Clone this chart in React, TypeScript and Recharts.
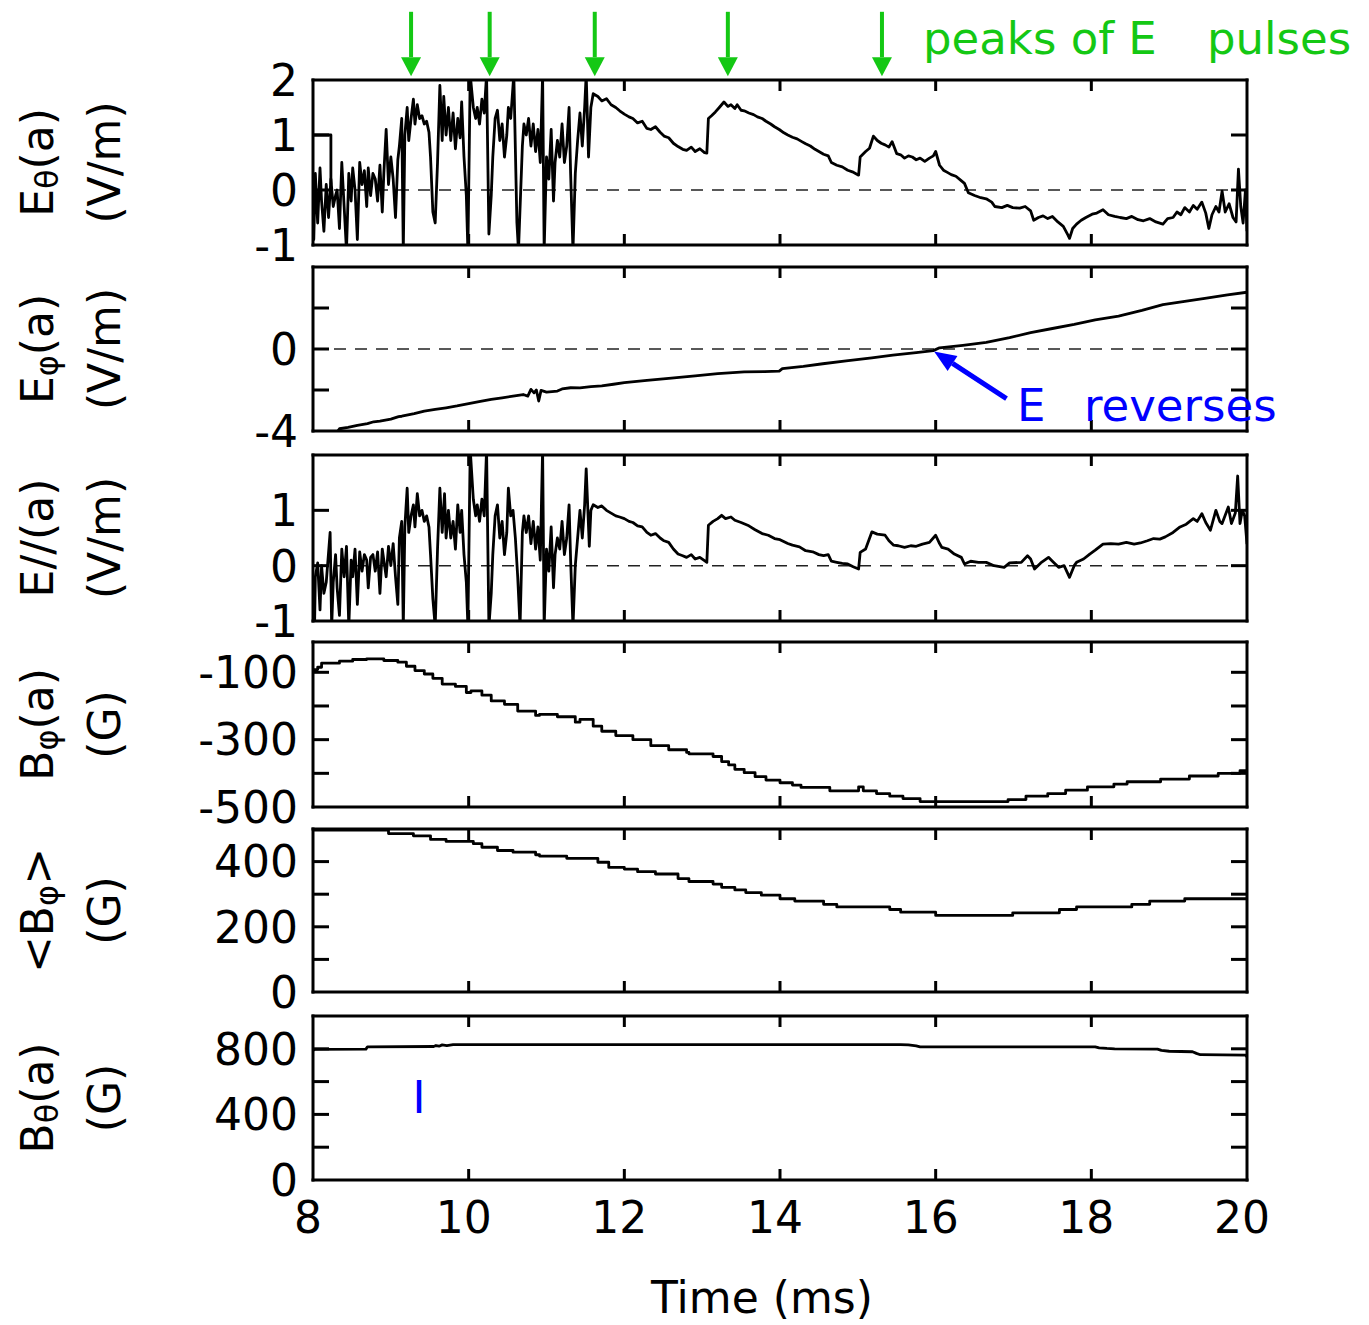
import React from 'react';
import { LineChart, Line, XAxis, YAxis, ReferenceLine } from 'recharts';

type Pt = [number, number];

// time axis (ms)
const timeTicks = [8, 10, 12, 14, 16, 18, 20];
const innerTimeTicks = [10, 12, 14, 16, 18];
const pulsePeakTimes = [9.26, 10.27, 11.62, 13.33, 15.31];

// E_theta(a), V/m
const eThetaPts: Pt[] = [
  [8.0, 0.0], [8.01, -0.9], [8.03, 0.3], [8.06, -0.6], [8.09, 0.4], [8.11, -0.2], [8.14, -0.75], [8.17, 0.1],
  [8.2, -0.5], [8.23, 0.2], [8.26, -0.3], [8.29, -0.1], [8.31, 0.0], [8.34, -0.7], [8.37, 0.5], [8.4, -0.3],
  [8.43, -1.1], [8.46, 0.3], [8.49, -0.2], [8.51, 0.4], [8.54, 0.0], [8.57, -0.9], [8.6, 0.5], [8.63, 0.1],
  [8.66, 0.35], [8.69, -0.3], [8.71, 0.4], [8.74, -0.1], [8.77, 0.3], [8.8, 0.2], [8.83, -0.2], [8.86, 0.45],
  [8.89, -0.4], [8.91, 0.3], [8.94, 1.1], [8.97, 0.1], [9.0, 0.6], [9.03, 0.2], [9.06, -0.5], [9.09, 0.55],
  [9.11, 0.8], [9.14, 1.3], [9.16, -1.1], [9.18, 1.0], [9.21, 1.5], [9.23, 0.9], [9.26, 1.3], [9.29, 1.65],
  [9.31, 1.2], [9.34, 1.55], [9.37, 1.3], [9.4, 1.35], [9.43, 1.2], [9.46, 1.25], [9.49, 1.05], [9.51, 0.6],
  [9.54, -0.4], [9.57, -0.6], [9.6, 0.5], [9.63, 1.9], [9.66, 0.9], [9.68, 1.7], [9.71, 1.0], [9.74, 1.5],
  [9.77, 0.9], [9.8, 1.4], [9.83, 0.75], [9.86, 1.3], [9.89, 0.95], [9.91, 1.6], [9.94, 0.6], [9.97, -0.1],
  [9.99, -1.1], [10.02, 2.1], [10.06, 1.5], [10.09, 1.3], [10.11, 1.5], [10.14, 1.2], [10.17, 1.65], [10.2, 1.4],
  [10.23, 2.1], [10.26, -0.8], [10.29, -0.1], [10.31, 0.6], [10.34, 1.3], [10.37, 1.45], [10.4, 0.9], [10.43, 1.2],
  [10.46, 0.6], [10.49, 1.0], [10.51, 1.5], [10.54, 1.3], [10.58, 2.1], [10.62, -0.6], [10.64, -1.1], [10.69, 0.8],
  [10.71, 1.2], [10.74, 1.0], [10.77, 1.3], [10.8, 0.8], [10.83, 1.2], [10.86, 0.7], [10.89, 1.1], [10.92, 0.5],
  [10.95, 2.1], [10.97, -1.1], [11.0, 0.6], [11.03, 0.2], [11.06, 1.1], [11.09, -0.2], [11.11, 0.5], [11.14, 0.9],
  [11.17, 0.6], [11.2, 1.2], [11.23, 0.5], [11.26, 0.8], [11.29, 1.5], [11.31, 0.3], [11.34, -1.1], [11.37, 0.3],
  [11.4, 0.9], [11.43, 1.4], [11.46, 0.8], [11.49, 1.5], [11.51, 2.1], [11.54, 0.6], [11.57, 1.5], [11.6, 1.75],
  [11.66, 1.7], [11.71, 1.62], [11.77, 1.66], [11.83, 1.55], [11.89, 1.5], [11.94, 1.44], [12.0, 1.38], [12.06, 1.33],
  [12.11, 1.3], [12.17, 1.22], [12.23, 1.25], [12.29, 1.12], [12.34, 1.1], [12.4, 1.15], [12.46, 1.05], [12.51, 0.98],
  [12.57, 0.95], [12.63, 0.85], [12.69, 0.79], [12.75, 0.74], [12.8, 0.72], [12.86, 0.78], [12.91, 0.7], [12.97, 0.75],
  [13.03, 0.68], [13.06, 0.67], [13.08, 1.3], [13.12, 1.35], [13.17, 1.42], [13.22, 1.5], [13.28, 1.6], [13.33, 1.52],
  [13.37, 1.55], [13.42, 1.48], [13.45, 1.55], [13.5, 1.45], [13.54, 1.44], [13.6, 1.4], [13.66, 1.37], [13.71, 1.33],
  [13.77, 1.3], [13.82, 1.25], [13.88, 1.2], [13.93, 1.15], [13.99, 1.1], [14.05, 1.04], [14.1, 1.0], [14.16, 0.96],
  [14.22, 0.93], [14.28, 0.88], [14.33, 0.84], [14.39, 0.8], [14.45, 0.74], [14.5, 0.7], [14.56, 0.65], [14.62, 0.62],
  [14.66, 0.5], [14.73, 0.45], [14.8, 0.42], [14.87, 0.36], [14.93, 0.33], [15.01, 0.27], [15.03, 0.6], [15.1, 0.7],
  [15.15, 0.76], [15.2, 0.98], [15.25, 0.9], [15.3, 0.85], [15.35, 0.82], [15.4, 0.78], [15.44, 0.88], [15.5, 0.66],
  [15.55, 0.64], [15.6, 0.58], [15.65, 0.62], [15.7, 0.6], [15.75, 0.55], [15.8, 0.58], [15.86, 0.52], [15.92, 0.58],
  [15.97, 0.62], [16.0, 0.7], [16.05, 0.45], [16.1, 0.36], [16.15, 0.32], [16.2, 0.28], [16.26, 0.25], [16.32, 0.18],
  [16.37, 0.12], [16.42, -0.05], [16.5, -0.1], [16.58, -0.14], [16.65, -0.16], [16.72, -0.22], [16.76, -0.3], [16.85, -0.32],
  [16.92, -0.28], [16.99, -0.32], [17.08, -0.33], [17.15, -0.3], [17.22, -0.38], [17.26, -0.55], [17.32, -0.5], [17.38, -0.47],
  [17.44, -0.52], [17.5, -0.48], [17.57, -0.58], [17.64, -0.66], [17.7, -0.82], [17.72, -0.88], [17.76, -0.7], [17.81, -0.62],
  [17.87, -0.55], [17.93, -0.5], [18.01, -0.44], [18.07, -0.42], [18.15, -0.36], [18.22, -0.45], [18.3, -0.48], [18.37, -0.5],
  [18.45, -0.52], [18.52, -0.48], [18.6, -0.54], [18.67, -0.56], [18.75, -0.52], [18.83, -0.58], [18.92, -0.62], [18.98, -0.52],
  [19.05, -0.5], [19.1, -0.4], [19.15, -0.45], [19.2, -0.32], [19.26, -0.4], [19.31, -0.28], [19.36, -0.35], [19.42, -0.22],
  [19.47, -0.42], [19.51, -0.7], [19.55, -0.45], [19.6, -0.3], [19.64, -0.4], [19.68, -0.02], [19.72, -0.4], [19.77, -0.25],
  [19.82, -0.5], [19.86, -0.58], [19.89, 0.38], [19.92, -0.3], [19.95, -0.6], [19.98, 0.0], [20.0, -0.75],
];
// flat trace at the very start of the E_theta record
const eThetaStartPts: Pt[] = [[8.0, 1.0], [8.23, 1.0], [8.23, 0.1]];

// E_phi(a), V/m
const ePhiPts: Pt[] = [
  [8.3, -4.1], [8.34, -3.89], [8.45, -3.82], [8.57, -3.72], [8.7, -3.64], [8.78, -3.55], [8.86, -3.52], [9.0, -3.42],
  [9.1, -3.3], [9.14, -3.28], [9.3, -3.15], [9.43, -3.03], [9.57, -2.95], [9.71, -2.87], [9.85, -2.78], [10.0, -2.67],
  [10.15, -2.56], [10.29, -2.46], [10.43, -2.38], [10.57, -2.3], [10.7, -2.22], [10.76, -2.3], [10.8, -1.97], [10.84, -2.14],
  [10.87, -2.0], [10.9, -2.54], [10.93, -2.02], [11.0, -2.1], [11.14, -2.05], [11.2, -1.95], [11.31, -1.89], [11.43, -1.9],
  [11.57, -1.84], [11.71, -1.8], [11.86, -1.72], [12.0, -1.64], [12.29, -1.53], [12.57, -1.43], [12.91, -1.31], [13.2, -1.2],
  [13.54, -1.12], [13.8, -1.1], [13.99, -1.08], [14.03, -0.96], [14.3, -0.85], [14.55, -0.72], [14.85, -0.58], [15.18, -0.43],
  [15.45, -0.3], [15.75, -0.18], [15.97, -0.08], [16.05, 0.06], [16.35, 0.18], [16.65, 0.32], [16.95, 0.55], [17.22, 0.8],
  [17.5, 1.0], [17.78, 1.2], [18.05, 1.42], [18.35, 1.6], [18.65, 1.88], [18.92, 2.16], [19.2, 2.32], [19.48, 2.48],
  [19.75, 2.64], [20.0, 2.77],
];

// E_parallel(a), V/m
const eParPts: Pt[] = [
  [8.0, -0.2], [8.02, -1.1], [8.03, -0.2], [8.06, 0.05], [8.09, -0.8], [8.11, 0.0], [8.14, -0.5], [8.17, -0.3],
  [8.22, 0.6], [8.24, -1.1], [8.26, -0.3], [8.29, 0.2], [8.31, -0.4], [8.34, -0.9], [8.37, 0.3], [8.4, -0.2],
  [8.43, 0.35], [8.46, -1.1], [8.49, 0.1], [8.51, -0.2], [8.54, 0.3], [8.57, -0.7], [8.6, 0.25], [8.63, -0.1],
  [8.66, 0.2], [8.69, 0.1], [8.71, -0.4], [8.74, 0.15], [8.77, 0.2], [8.8, -0.1], [8.83, 0.25], [8.86, -0.5],
  [8.89, 0.3], [8.91, 0.1], [8.94, -0.2], [8.97, 0.35], [9.0, 0.0], [9.03, 0.4], [9.06, -0.2], [9.09, -0.7],
  [9.11, 0.5], [9.14, 0.8], [9.16, -1.1], [9.18, 0.7], [9.21, 1.4], [9.23, 0.6], [9.26, 0.9], [9.29, 1.1],
  [9.31, 0.7], [9.34, 1.3], [9.37, 0.9], [9.4, 1.0], [9.43, 0.8], [9.46, 0.9], [9.49, 0.7], [9.51, 0.2],
  [9.54, -0.6], [9.57, -1.1], [9.6, 0.3], [9.63, 1.4], [9.66, 0.6], [9.69, 1.3], [9.71, 0.5], [9.74, 1.0],
  [9.77, 0.5], [9.8, 0.8], [9.83, 0.3], [9.86, 1.1], [9.89, 0.6], [9.91, 1.0], [9.94, 0.2], [9.97, -0.3],
  [9.99, -1.1], [10.02, 2.1], [10.06, 1.2], [10.09, 0.9], [10.11, 1.1], [10.14, 0.8], [10.17, 1.2], [10.2, 0.9],
  [10.23, 2.1], [10.26, -1.1], [10.29, -0.5], [10.31, 0.2], [10.34, 0.9], [10.37, 1.1], [10.4, 0.5], [10.43, 0.8],
  [10.46, 0.2], [10.49, 0.6], [10.51, 1.4], [10.54, 0.9], [10.57, 1.0], [10.6, 0.5], [10.63, -0.2], [10.66, -1.1],
  [10.69, 0.6], [10.71, 0.9], [10.74, 0.6], [10.77, 0.9], [10.8, 0.4], [10.83, 0.8], [10.86, 0.3], [10.89, 0.7],
  [10.92, 0.1], [10.95, 2.1], [10.97, -1.1], [11.0, 0.3], [11.03, -0.1], [11.06, 0.7], [11.09, -0.4], [11.11, 0.2],
  [11.14, 0.5], [11.17, 0.3], [11.2, 0.8], [11.23, 0.2], [11.26, 0.5], [11.29, 1.1], [11.31, 0.1], [11.34, -1.1],
  [11.37, 0.0], [11.4, 0.5], [11.43, 1.0], [11.46, 0.5], [11.49, 1.1], [11.51, 1.75], [11.55, 0.35], [11.57, 1.0],
  [11.6, 1.1], [11.66, 1.05], [11.71, 1.08], [11.77, 1.0], [11.83, 0.95], [11.89, 0.9], [11.94, 0.88], [12.0, 0.85],
  [12.06, 0.8], [12.11, 0.78], [12.17, 0.72], [12.23, 0.7], [12.29, 0.6], [12.34, 0.55], [12.4, 0.58], [12.46, 0.5],
  [12.51, 0.45], [12.57, 0.42], [12.63, 0.3], [12.69, 0.21], [12.75, 0.18], [12.8, 0.15], [12.86, 0.2], [12.91, 0.12],
  [12.97, 0.15], [13.03, 0.09], [13.06, 0.06], [13.08, 0.73], [13.14, 0.8], [13.2, 0.85], [13.25, 0.91], [13.3, 0.85],
  [13.37, 0.88], [13.42, 0.82], [13.5, 0.78], [13.6, 0.72], [13.68, 0.65], [13.77, 0.58], [13.85, 0.55], [13.93, 0.49],
  [14.0, 0.47], [14.1, 0.4], [14.16, 0.37], [14.25, 0.34], [14.33, 0.27], [14.42, 0.25], [14.5, 0.2], [14.56, 0.18],
  [14.62, 0.2], [14.66, 0.08], [14.73, 0.06], [14.8, 0.04], [14.87, 0.03], [14.94, -0.02], [15.01, -0.06], [15.03, 0.24],
  [15.1, 0.3], [15.18, 0.61], [15.25, 0.57], [15.35, 0.55], [15.4, 0.45], [15.46, 0.37], [15.52, 0.36], [15.6, 0.33],
  [15.68, 0.36], [15.75, 0.35], [15.83, 0.39], [15.92, 0.42], [16.0, 0.55], [16.05, 0.4], [16.08, 0.33], [16.16, 0.3],
  [16.24, 0.21], [16.33, 0.15], [16.37, 0.03], [16.45, 0.08], [16.55, 0.06], [16.65, 0.06], [16.75, 0.0], [16.88, -0.03],
  [16.95, 0.05], [17.1, 0.06], [17.18, 0.18], [17.22, 0.12], [17.27, -0.06], [17.35, 0.05], [17.45, 0.15], [17.5, 0.08],
  [17.58, -0.03], [17.65, 0.0], [17.72, -0.21], [17.78, 0.0], [17.81, 0.06], [17.9, 0.12], [17.98, 0.21], [18.05, 0.28],
  [18.15, 0.39], [18.25, 0.4], [18.35, 0.39], [18.45, 0.42], [18.55, 0.39], [18.63, 0.41], [18.72, 0.45], [18.8, 0.49],
  [18.88, 0.48], [18.95, 0.52], [19.05, 0.6], [19.14, 0.7], [19.22, 0.75], [19.31, 0.85], [19.36, 0.8], [19.42, 0.94],
  [19.47, 0.78], [19.53, 0.64], [19.6, 1.0], [19.65, 0.8], [19.68, 0.76], [19.76, 1.06], [19.8, 0.76], [19.85, 0.95],
  [19.88, 1.62], [19.91, 0.76], [19.94, 1.0], [19.97, 0.9], [20.0, 0.39],
];

// B_phi(a), G  (staircase: start of each level)
const bPhiPts: Pt[] = [
  [8.0, -92], [8.06, -85], [8.11, -73], [8.34, -67], [8.51, -62], [8.69, -60], [8.91, -65], [9.09, -70],
  [9.2, -82], [9.31, -95], [9.43, -105], [9.54, -118], [9.66, -135], [9.83, -142], [9.97, -160], [10.03, -155],
  [10.17, -168], [10.29, -185], [10.46, -195], [10.63, -215], [10.86, -228], [10.91, -225], [11.14, -232], [11.37, -248],
  [11.43, -240], [11.6, -260], [11.71, -275], [11.89, -288], [12.11, -300], [12.34, -318], [12.57, -330], [12.8, -338],
  [12.83, -342], [13.14, -350], [13.25, -365], [13.34, -375], [13.42, -388], [13.54, -398], [13.68, -410], [13.82, -420],
  [14.0, -428], [14.16, -435], [14.27, -442], [14.64, -452], [15.01, -440], [15.07, -452], [15.24, -460], [15.41, -468],
  [15.58, -475], [15.8, -484], [16.93, -478], [17.16, -468], [17.44, -460], [17.67, -450], [17.95, -440], [18.29, -432],
  [18.46, -425], [18.89, -417], [19.26, -408], [19.63, -400], [19.91, -392], [20.0, -392],
];

// <B_phi>, G  (staircase: start of each level)
const bPhiAvgPts: Pt[] = [
  [8.0, 497], [8.97, 486], [9.29, 479], [9.51, 468], [9.71, 462], [10.06, 455], [10.17, 444], [10.37, 434],
  [10.57, 429], [10.86, 421], [10.91, 417], [11.26, 410], [11.66, 398], [11.8, 382], [12.0, 377], [12.17, 369],
  [12.4, 362], [12.69, 348], [12.83, 339], [13.14, 331], [13.25, 321], [13.42, 313], [13.56, 305], [13.76, 297],
  [14.0, 286], [14.19, 279], [14.56, 269], [14.73, 261], [15.41, 253], [15.55, 245], [16.0, 235], [16.99, 243],
  [17.59, 253], [17.81, 261], [18.52, 269], [18.75, 279], [19.2, 286], [20.0, 288],
];

// B_theta(a), G
const bThetaPts: Pt[] = [
  [8.0, 790], [8.02, 796], [8.68, 798], [8.7, 812], [9.55, 814], [9.58, 820], [9.62, 816], [9.66, 824],
  [9.72, 820], [9.8, 826], [15.55, 826], [15.65, 824], [15.75, 818], [15.8, 812], [18.05, 812], [18.1, 806],
  [18.2, 802], [18.3, 800], [18.85, 798], [18.9, 790], [19.0, 785], [19.3, 782], [19.35, 772], [19.4, 764],
  [19.98, 762], [20.0, 752],
];

const W = 1369;
const H = 1325;
const PLOT_RIGHT = 1247;
const PLOT_LEFT = 313;
const FONT = "'DejaVu Sans', sans-serif";
const GREEN = '#14c814';
const BLUE = '#0000ff';
const frameLine = { stroke: '#000', strokeWidth: 3, strokeLinecap: 'square' as const };

const toRows = (pts: Pt[]) => pts.map(([t, v]) => ({ t, v }));

type Curve = 'linear' | 'stepAfter';

interface PanelCfg {
  top: number;
  bottom: number;
  domain: [number, number];
  ticks: number[];
  labels: number[];
  marks: number[];
  zero?: boolean;
  series: { pts: Pt[]; curve: Curve }[];
  title: [string, string, string];
  unit: string;
  padTop?: number;
  padBottom?: number;
  timeLabels?: boolean;
}

const panels: PanelCfg[] = [
  {
    top: 80, bottom: 245, domain: [-1, 2], ticks: [-1, 0, 1, 2], labels: [-1, 0, 1, 2], marks: [0, 1], zero: true,
    series: [{ pts: eThetaPts, curve: 'linear' }, { pts: eThetaStartPts, curve: 'linear' }],
    title: ['E', 'θ', '(a)'], unit: '(V/m)', padTop: 80,
  },
  {
    top: 267, bottom: 431, domain: [-4, 4], ticks: [-4, -2, 0, 2, 4], labels: [-4, 0], marks: [-2, 0, 2], zero: true,
    series: [{ pts: ePhiPts, curve: 'linear' }],
    title: ['E', 'φ', '(a)'], unit: '(V/m)',
  },
  {
    top: 455, bottom: 621, domain: [-1, 2], ticks: [-1, 0, 1, 2], labels: [-1, 0, 1], marks: [0, 1], zero: true,
    series: [{ pts: eParPts, curve: 'linear' }],
    title: ['E//(a)', '', ''], unit: '(V/m)',
  },
  {
    top: 642, bottom: 807, domain: [-500, -10], ticks: [-500, -400, -300, -200, -100], labels: [-500, -300, -100],
    marks: [-400, -300, -200, -100],
    series: [{ pts: bPhiPts, curve: 'stepAfter' }],
    title: ['B', 'φ', '(a)'], unit: '(G)',
  },
  {
    top: 829, bottom: 992, domain: [0, 500], ticks: [0, 100, 200, 300, 400, 500], labels: [0, 200, 400],
    marks: [100, 200, 300, 400],
    series: [{ pts: bPhiAvgPts, curve: 'stepAfter' }],
    title: ['<B', 'φ', '>'], unit: '(G)',
  },
  {
    top: 1016, bottom: 1180, domain: [0, 1000], ticks: [0, 200, 400, 600, 800, 1000], labels: [0, 400, 800],
    marks: [200, 400, 600, 800],
    series: [{ pts: bThetaPts, curve: 'linear' }],
    title: ['B', 'θ', '(a)'], unit: '(G)', padBottom: 70, timeLabels: true,
  },
];

const TimeTick = (props: any) => {
  const { x, y, payload, side, showLabel } = props;
  const v = payload.value;
  const dir = side === 'bottom' ? -1 : 1;
  return (
    <g>
      {innerTimeTicks.includes(v) && (
        <line x1={x} x2={x} y1={y} y2={y + dir * 11} stroke="#000" strokeWidth={3} />
      )}
      {showLabel && (
        <text x={x - 5} y={y + 53} textAnchor="middle" fontSize={44} fontFamily={FONT} fill="#000">
          {v}
        </text>
      )}
    </g>
  );
};

const ValueTick = (props: any) => {
  const { x, y, payload, side, labels, marks } = props;
  const v = payload.value;
  const dir = side === 'left' ? 1 : -1;
  return (
    <g>
      {marks.includes(v) && <line x1={x} x2={x + dir * 16} y1={y} y2={y} stroke="#000" strokeWidth={3} />}
      {side === 'left' && labels.includes(v) && (
        <text x={x - 15} y={y} dy="0.36em" textAnchor="end" fontSize={44} fontFamily={FONT} fill="#000">
          {v}
        </text>
      )}
    </g>
  );
};

const arrowShape = (color: string, width: number, headLen: number, headW: number) => (props: any) => {
  const { x1, y1, x2, y2 } = props;
  const a = Math.atan2(y2 - y1, x2 - x1);
  const bx = x2 - headLen * Math.cos(a);
  const by = y2 - headLen * Math.sin(a);
  const px = (-Math.sin(a) * headW) / 2;
  const py = (Math.cos(a) * headW) / 2;
  return (
    <g>
      <line x1={x1} y1={y1} x2={bx} y2={by} stroke={color} strokeWidth={width} />
      <polygon points={`${x2},${y2} ${bx + px},${by + py} ${bx - px},${by - py}`} fill={color} />
    </g>
  );
};

// axes need a non-zero size to be drawn; 1px each
const AX = 1;

const Panel = ({ cfg, children }: { cfg: PanelCfg; children?: React.ReactNode }) => {
  const padTop = cfg.padTop ?? 30;
  const padBottom = cfg.padBottom ?? 30;
  const h = cfg.bottom - cfg.top;
  return (
    <div style={{ position: 'absolute', left: 0, top: cfg.top - padTop }}>
      <LineChart
        width={W}
        height={h + padTop + padBottom}
        margin={{ top: padTop - AX, bottom: padBottom - AX, left: 0, right: W - PLOT_RIGHT - AX }}
      >
        <XAxis
          xAxisId="b" dataKey="t" type="number" domain={[8, 20]} ticks={timeTicks} interval={0}
          allowDataOverflow height={AX} tickSize={0} tickMargin={0} tickLine={false} axisLine={frameLine}
          tick={(p: any) => <TimeTick {...p} side="bottom" showLabel={!!cfg.timeLabels} />}
        />
        <XAxis
          xAxisId="t" orientation="top" dataKey="t" type="number" domain={[8, 20]} ticks={timeTicks} interval={0}
          allowDataOverflow height={AX} tickSize={0} tickMargin={0} tickLine={false} axisLine={frameLine}
          tick={(p: any) => <TimeTick {...p} side="top" showLabel={false} />}
        />
        <YAxis
          yAxisId="l" type="number" domain={cfg.domain} ticks={cfg.ticks} interval={0} allowDataOverflow
          width={PLOT_LEFT} tickSize={0} tickMargin={0} tickLine={false} axisLine={frameLine}
          tick={(p: any) => <ValueTick {...p} side="left" labels={cfg.labels} marks={cfg.marks} />}
        />
        <YAxis
          yAxisId="r" orientation="right" type="number" domain={cfg.domain} ticks={cfg.ticks} interval={0}
          allowDataOverflow width={AX} tickSize={0} tickMargin={0} tickLine={false} axisLine={frameLine}
          tick={(p: any) => <ValueTick {...p} side="right" labels={cfg.labels} marks={cfg.marks} />}
        />
        {cfg.zero && (
          <ReferenceLine xAxisId="b" yAxisId="l" y={0} stroke="#222" strokeWidth={1.5} strokeDasharray="12 9" />
        )}
        {cfg.series.map((s, i) => (
          <Line
            key={i} xAxisId="b" yAxisId="l" data={toRows(s.pts)} dataKey="v" type={s.curve}
            stroke="#000" strokeWidth={2.8} strokeLinejoin="round" dot={false} activeDot={false}
            isAnimationActive={false}
          />
        ))}
        {children}
      </LineChart>
    </div>
  );
};

const PanelTitle = ({ cfg }: { cfg: PanelCfg }) => {
  const cy = (cfg.top + cfg.bottom) / 2;
  const [main, sub, rest] = cfg.title;
  return (
    <g fontFamily={FONT} fontSize={44} fill="#000">
      <text transform={`translate(53 ${cy}) rotate(-90)`} textAnchor="middle">
        {main}
        {sub && (
          <tspan fontSize={32} dy={5}>
            {sub}
          </tspan>
        )}
        {rest && <tspan dy={sub ? -5 : 0}>{rest}</tspan>}
      </text>
      <text transform={`translate(120 ${cy}) rotate(-90)`} textAnchor="middle">
        {cfg.unit}
      </text>
    </g>
  );
};

export default function App() {
  return (
    <div style={{ position: 'absolute', left: 0, top: 0, width: W, height: H, background: '#fff' }}>
      <Panel cfg={panels[0]}>
        {pulsePeakTimes.map((t) => (
          <ReferenceLine
            key={t} xAxisId="b" yAxisId="l" ifOverflow="visible"
            segment={[{ x: t, y: 3.24 }, { x: t, y: 2.07 }]}
            shape={arrowShape(GREEN, 4, 19, 20)}
          />
        ))}
      </Panel>
      <Panel cfg={panels[1]}>
        <ReferenceLine
          xAxisId="b" yAxisId="l" ifOverflow="visible"
          segment={[{ x: 16.91, y: -2.42 }, { x: 15.98, y: -0.12 }]}
          shape={arrowShape(BLUE, 5, 22, 18)}
        />
      </Panel>
      <Panel cfg={panels[2]} />
      <Panel cfg={panels[3]} />
      <Panel cfg={panels[4]} />
      <Panel cfg={panels[5]} />
      <svg
        width={W} height={H}
        style={{ position: 'absolute', left: 0, top: 0, pointerEvents: 'none' }}
        fontFamily={FONT}
      >
        {panels.map((p, i) => (
          <PanelTitle key={i} cfg={p} />
        ))}
        <text x={(PLOT_LEFT + PLOT_RIGHT) / 2 - 18} y={1313} textAnchor="middle" fontSize={44} fill="#000">
          Time (ms)
        </text>
        <text x={923} y={54} fontSize={45} fill={GREEN}>peaks of E</text>
        <text x={1207} y={54} fontSize={45} fill={GREEN}>pulses</text>
        <text x={1017} y={421} fontSize={45} fill={BLUE}>E</text>
        <text x={1084} y={421} fontSize={45} fill={BLUE}>reverses</text>
        <text x={419} y={1113} fontSize={44} textAnchor="middle" fill={BLUE}>I</text>
      </svg>
    </div>
  );
}
